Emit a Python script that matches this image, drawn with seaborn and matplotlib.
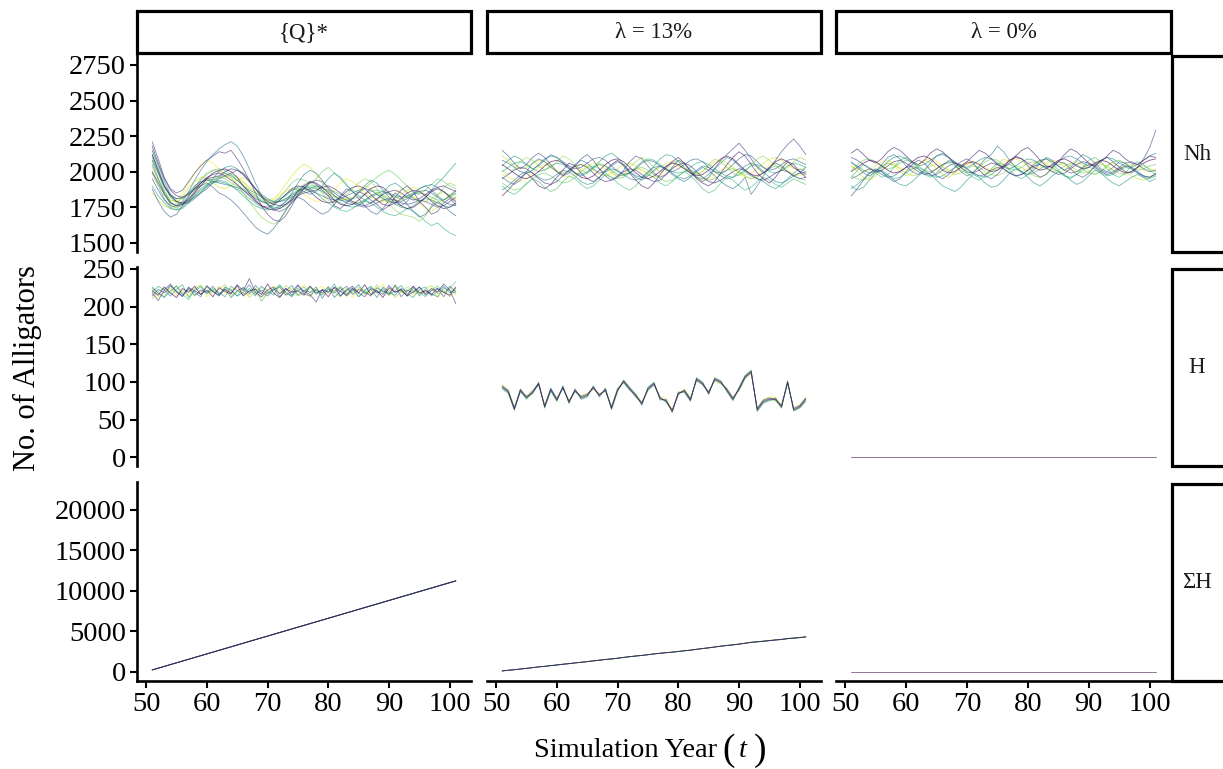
import numpy as np
import pandas as pd
import matplotlib
matplotlib.use("Agg")
import matplotlib.pyplot as plt
from matplotlib.patches import Rectangle
import seaborn as sns

# ---------------------------------------------------------------- data
years = list(range(51, 102))
scenarios = ["{Q}*", "λ = 13%", "λ = 0%"]
metrics = ["Nh", "H", "ΣH"]

# Population size (Nh), one list per simulation run
nh_q = [
    [2120,2010,1900,1830,1790,1780,1800,1850,1900,1950,1990,2010,2020,2000,1960,1900,1850,1800,1760,1740,1730,1740,1770,1810,1860,1900,1930,1920,1890,1850,1800,1770,1760,1770,1800,1840,1880,1900,1890,1850,1800,1760,1740,1750,1780,1820,1860,1880,1860,1820,1790],
    [2000,1920,1840,1780,1760,1770,1810,1860,1920,1960,1980,1990,1970,1940,1910,1870,1830,1790,1760,1750,1770,1800,1840,1880,1900,1890,1860,1820,1790,1780,1790,1820,1860,1890,1900,1880,1840,1800,1770,1760,1780,1810,1850,1870,1860,1830,1790,1760,1740,1750,1780],
    [2180,2060,1950,1870,1830,1820,1840,1880,1920,1950,1960,1970,2000,2020,2010,1980,1930,1880,1830,1790,1770,1760,1770,1800,1830,1850,1860,1870,1890,1900,1880,1850,1820,1790,1770,1760,1780,1810,1840,1860,1870,1850,1820,1800,1810,1840,1870,1890,1900,1880,1860],
    [2210,2090,1960,1880,1850,1870,1930,1990,2040,2080,2110,2140,2130,2150,2090,2020,1940,1850,1760,1700,1660,1650,1690,1760,1840,1880,1930,1910,1870,1830,1760,1740,1780,1810,1860,1840,1800,1770,1730,1760,1820,1870,1900,1860,1790,1750,1700,1720,1780,1810,1770],
    [1950,1870,1800,1760,1750,1770,1790,1820,1850,1880,1920,1950,1970,1990,2010,1990,1940,1880,1820,1770,1730,1720,1740,1780,1830,1880,1920,1940,1930,1890,1850,1820,1800,1780,1760,1750,1760,1780,1800,1810,1800,1780,1770,1780,1800,1790,1770,1750,1760,1790,1820],
    [1880,1790,1720,1680,1700,1760,1830,1880,1900,1920,1890,1850,1830,1800,1760,1710,1660,1610,1580,1560,1600,1660,1730,1790,1820,1800,1760,1730,1700,1720,1770,1830,1880,1860,1810,1760,1720,1700,1740,1800,1850,1820,1770,1720,1680,1700,1750,1790,1760,1720,1690],
    [2080,1990,1900,1840,1810,1810,1850,1900,1930,1940,1930,1920,1910,1900,1890,1870,1840,1810,1790,1780,1780,1790,1810,1840,1870,1880,1870,1850,1830,1810,1800,1810,1830,1850,1870,1880,1870,1840,1810,1790,1780,1790,1810,1840,1860,1870,1850,1820,1790,1770,1760],
    [2050,1950,1850,1780,1760,1790,1860,1940,2010,2070,2120,2160,2190,2210,2180,2110,2020,1920,1830,1770,1740,1750,1790,1850,1920,1980,2010,1990,1940,1880,1830,1800,1790,1810,1850,1900,1940,1920,1870,1820,1780,1760,1790,1840,1880,1900,1870,1830,1800,1830,1870],
    [2150,2050,1930,1840,1790,1770,1780,1810,1850,1900,1950,2000,2030,2040,2020,1980,1930,1880,1840,1810,1790,1790,1800,1820,1840,1860,1880,1900,1890,1860,1830,1800,1780,1770,1780,1800,1830,1850,1860,1850,1830,1820,1830,1850,1880,1900,1910,1890,1860,1830,1850],
    [2120,2000,1890,1830,1810,1820,1850,1880,1920,1950,1940,1960,1990,1970,1940,1900,1870,1850,1820,1800,1790,1810,1830,1870,1880,1860,1840,1860,1900,1950,1990,1960,1910,1860,1830,1800,1780,1800,1850,1900,1920,1890,1850,1810,1790,1820,1870,1920,1960,2010,2060],
    [1900,1830,1780,1740,1730,1750,1790,1840,1880,1910,1930,1930,1920,1900,1870,1830,1790,1760,1740,1730,1740,1760,1790,1830,1860,1880,1890,1880,1860,1830,1800,1780,1760,1750,1760,1790,1820,1840,1830,1800,1770,1750,1740,1760,1790,1810,1800,1780,1760,1750,1770],
    [1990,1900,1810,1750,1730,1740,1780,1830,1870,1900,1920,1940,1930,1900,1880,1850,1810,1780,1750,1740,1760,1800,1840,1870,1890,1900,1880,1850,1810,1780,1750,1730,1720,1740,1770,1790,1780,1750,1720,1700,1690,1710,1740,1720,1690,1650,1620,1640,1600,1570,1550],
    [2100,1990,1870,1790,1760,1780,1830,1890,1940,1980,2010,2020,2010,1980,1940,1900,1860,1830,1800,1770,1750,1740,1760,1800,1850,1890,1900,1900,1880,1870,1860,1840,1820,1810,1820,1840,1860,1870,1860,1840,1820,1810,1820,1840,1850,1840,1820,1800,1800,1820,1840],
    [2150,2030,1900,1820,1780,1770,1790,1830,1860,1890,1930,1960,1950,1920,1900,1880,1850,1820,1790,1770,1780,1820,1870,1920,1950,1940,1920,1950,2000,2030,1990,1950,1900,1870,1850,1880,1920,1960,1990,2010,1980,1940,1900,1860,1840,1870,1910,1950,1930,1900,1880],
    [2080,1950,1840,1770,1740,1760,1820,1890,1950,1990,2010,2000,1990,1960,1910,1850,1790,1730,1680,1650,1630,1660,1720,1800,1870,1910,1920,1890,1850,1800,1780,1800,1840,1880,1920,1950,1930,1880,1820,1770,1730,1700,1690,1680,1650,1690,1760,1830,1890,1920,1900],
    [2030,1940,1860,1800,1790,1810,1840,1870,1900,1930,1950,1970,1960,1980,1960,1930,1890,1860,1820,1790,1780,1790,1810,1830,1860,1880,1870,1890,1870,1840,1820,1800,1810,1790,1780,1800,1830,1850,1840,1810,1790,1800,1830,1820,1800,1790,1810,1840,1860,1830,1800],
    [1850,1800,1760,1740,1770,1830,1890,1930,1960,1950,1920,1890,1880,1900,1940,1960,1930,1880,1830,1800,1810,1850,1910,1970,2020,2050,2030,1980,1920,1870,1830,1810,1800,1820,1860,1900,1880,1840,1800,1780,1800,1840,1870,1890,1870,1830,1800,1780,1800,1840,1860],
    [2000,1920,1840,1790,1800,1850,1920,1990,2050,2080,2060,2020,1980,1950,1940,1920,1880,1830,1790,1780,1800,1830,1860,1880,1870,1840,1810,1790,1800,1830,1870,1920,1950,1930,1890,1850,1820,1800,1790,1810,1850,1880,1860,1820,1780,1740,1720,1750,1800,1830,1810],
]
nh_13 = [
    [2050,2020,1990,1960,1950,1970,2000,2040,2070,2080,2060,2030,1990,1960,1950,1970,2010,2050,2080,2090,2070,2030,1990,1960,1950,1970,2000,2040,2060,2050,2020,1990,1970,1980,2010,2050,2090,2110,2090,2050,2010,1980,1970,1990,2030,2070,2090,2070,2030,2000,1990],
    [1830,1870,1920,1960,1990,1950,1900,1880,1910,1960,2010,2060,2040,1990,1950,1930,1960,2010,2050,2080,2040,1990,1940,1900,1880,1920,1980,2030,2070,2100,2060,2000,1950,1920,1900,1930,1990,2050,2100,2140,2110,2050,1990,1950,1920,1960,2020,2070,2050,2000,1960],
    [1950,1980,2010,2030,2020,1990,1950,1920,1910,1930,1970,2010,2040,2050,2030,1990,1950,1930,1940,1970,2000,2020,2010,1980,1950,1930,1940,1980,2020,2050,2060,2040,2000,1960,1930,1920,1940,1970,2000,2020,2010,1980,1950,1940,1960,1990,2010,2000,1970,1950,1960],
    [2150,2110,2060,2020,2050,2100,2130,2100,2050,2000,1970,1990,2040,2090,2120,2080,2020,1970,1940,1960,2010,2070,2110,2090,2040,1990,1960,1980,2030,2080,2060,2010,1960,1930,1960,2020,2080,2120,2160,2200,2150,2090,2030,1990,2020,2080,2140,2190,2230,2180,2120],
    [2080,2060,2030,2000,1990,2010,2050,2090,2110,2100,2070,2040,2020,2030,2060,2090,2100,2080,2040,2000,1980,1990,2020,2060,2080,2070,2040,2010,2000,2020,2050,2080,2090,2070,2030,2000,1990,2010,2050,2090,2120,2110,2070,2030,2010,2020,2050,2080,2090,2070,2050],
    [1960,1930,1910,1940,2000,2060,2090,2070,2030,2000,1980,2010,2050,2080,2060,2020,1990,2000,2040,2070,2050,2000,1960,1940,1970,2010,2040,2020,1980,1950,1930,1960,2000,2030,2010,1970,1930,1900,1880,1910,1960,1840,1900,1970,2030,2060,2040,2000,1970,1990,2030],
    [1870,1900,1940,1980,2000,1990,1960,1940,1950,1980,2010,2000,1970,1930,1910,1920,1960,2000,2020,2010,1980,1950,1940,1960,2000,2030,2040,2020,1990,1960,1950,1970,2010,2040,2030,2000,1970,1950,1960,2000,2040,2060,2040,2000,1960,1930,1920,1940,1970,1990,1980],
    [2040,2080,2110,2090,2050,2020,2040,2080,2120,2100,2060,2020,1990,1970,1990,2030,2070,2110,2130,2100,2050,2000,1970,1960,1990,2040,2090,2120,2110,2070,2030,1990,1960,1950,1980,2020,2060,2100,2080,2040,2000,1970,1950,1930,1900,1880,1910,1950,1990,2020,2000],
    [2000,2030,2060,2070,2050,2020,2000,2010,2040,2060,2050,2020,1990,1980,2000,2030,2050,2040,2010,1980,1970,1990,2030,2070,2090,2080,2050,2020,2000,1990,2000,2030,2060,2070,2050,2020,1990,1970,1960,1980,2010,2040,2050,2030,2000,1990,2010,2040,2060,2050,2030],
    [1900,1860,1840,1870,1920,1950,1930,1890,1860,1880,1930,1970,1950,1910,1880,1900,1940,1980,1960,1920,1890,1870,1900,1950,1980,1960,1920,1900,1930,1970,2000,1970,1930,1880,1850,1870,1920,1960,1940,1900,1870,1890,1930,1960,1940,1910,1890,1920,1950,1930,1910],
    [1920,1890,1870,1880,1910,1950,1980,1990,1970,1940,1920,1930,1960,2000,2030,2040,2020,1990,1960,1950,1960,1990,2020,2030,2010,1980,1950,1930,1940,1970,2000,2010,1990,1960,1940,1950,1980,2010,2020,2000,1970,1950,1960,1990,2020,2040,2030,2000,1970,1950,1940],
    [2010,1980,2020,2070,2100,2080,2040,2010,2030,2070,2110,2090,2050,2010,1990,2020,2060,2040,2000,1960,1980,2030,2070,2100,2070,2030,2000,2020,2060,2080,2050,2010,1980,2000,2050,2090,2070,2030,1990,1970,2000,2050,2090,2110,2080,2040,2010,2030,2070,2100,2080],
    [2110,2080,2040,2020,2030,2060,2080,2070,2040,2010,1990,2000,2030,2050,2040,2010,1980,1970,1990,2020,2050,2060,2040,2010,1990,2000,2030,2060,2070,2050,2020,1990,1980,2000,2040,2070,2080,2060,2030,2000,1980,1990,2020,2060,2090,2100,2080,2050,2020,2010,2030],
    [1980,1960,1940,1930,1950,1990,2030,2050,2030,2000,1970,1960,1980,2010,2040,2060,2050,2020,1990,1970,1980,2000,2020,2010,1980,1960,1970,2000,2030,2040,2020,1990,1960,1940,1950,1980,2010,2030,2020,1990,1960,1950,1970,2010,2050,2060,2040,2010,1980,1970,1990],
]
nh_0 = [
    [2000,2030,2060,2080,2070,2040,2010,1990,2000,2030,2070,2100,2110,2090,2050,2010,1990,2000,2030,2060,2070,2050,2020,2000,2010,2040,2080,2100,2090,2060,2030,2010,2020,2050,2080,2090,2070,2040,2020,2030,2060,2080,2070,2040,2010,1990,2000,2030,2060,2080,2090],
    [2130,2160,2120,2080,2060,2090,2140,2170,2150,2110,2070,2050,2080,2130,2160,2140,2100,2060,2040,2070,2110,2150,2130,2090,2050,2030,2060,2110,2150,2170,2130,2080,2040,2030,2070,2120,2160,2140,2100,2060,2040,2070,2110,2150,2130,2090,2060,2050,2080,2110,2100],
    [2100,2080,2050,2020,2000,2010,2040,2070,2080,2060,2030,2000,1980,1990,2020,2050,2070,2060,2030,2000,1990,2010,2040,2060,2050,2020,1990,1970,1980,2010,2040,2050,2030,2000,1980,1990,2020,2050,2070,2060,2030,2000,1980,1990,2020,2040,2030,2000,1970,1960,1980],
    [1830,1880,1940,1990,2020,2000,1960,1930,1950,2000,2050,2080,2060,2010,1970,1950,1980,2030,2070,2090,2060,2010,1970,1950,1980,2030,2080,2110,2090,2040,1990,1960,1980,2030,2070,2060,2020,1980,1960,1990,2040,2080,2100,2070,2030,2000,1990,2030,2090,2170,2290],
    [1950,1970,2000,2020,2010,1980,1960,1970,2000,2030,2040,2020,1990,1970,1980,2010,2040,2060,2050,2020,1990,1970,1980,2010,2030,2020,1990,1970,1980,2010,2050,2080,2090,2070,2040,2010,1990,2000,2030,2050,2040,2010,1990,2000,2030,2060,2070,2050,2020,2000,2010],
    [2070,2030,1990,1970,2000,2050,2100,2120,2090,2040,2000,1980,2010,2060,2110,2130,2100,2050,2000,1970,1990,2040,2090,2120,2180,2140,2080,2030,1990,1980,2010,2060,2100,2080,2040,2010,2030,2080,2120,2100,2060,2020,2000,2030,2070,2060,2020,1990,1970,1960,1990],
    [2060,2040,2010,1990,2000,2030,2070,2100,2110,2090,2060,2040,2050,2080,2110,2120,2100,2070,2040,2030,2050,2080,2100,2090,2060,2030,2020,2040,2070,2090,2080,2050,2030,2040,2070,2100,2110,2090,2060,2040,2050,2080,2100,2090,2060,2040,2030,2050,2080,2110,2130],
    [1900,1870,1890,1940,1990,2010,1980,1940,1910,1900,1930,1970,2000,1980,1940,1900,1880,1860,1890,1940,1980,1960,1920,1890,1900,1940,1990,2020,2000,1960,1920,1900,1930,1970,2000,1980,1940,1910,1930,1970,2010,1990,1950,1920,1900,1930,1960,1980,1960,1930,1950],
    [1880,1910,1950,1990,2010,2000,1970,1950,1960,1990,2020,2030,2010,1980,1960,1970,2000,2030,2040,2020,1990,1970,1960,1980,2010,2040,2050,2030,2000,1980,1990,2020,2040,2030,2000,1970,1960,1980,2010,2030,2020,1990,1970,1980,2010,2030,2020,1990,1960,1950,1970],
    [1960,2010,2050,2030,1990,1960,1980,2030,2080,2100,2070,2020,1980,1960,1990,2040,2080,2070,2030,1990,1960,1940,1970,2020,2060,2050,2010,1970,1950,1980,2030,2070,2090,2060,2010,1970,1950,1980,2030,2080,2100,2070,2020,1980,1960,1990,2040,2070,2050,2010,1980],
    [2010,2050,2080,2090,2070,2040,2020,2030,2060,2080,2070,2040,2010,2000,2020,2050,2060,2040,2010,1990,2000,2030,2070,2090,2080,2050,2020,2010,2030,2060,2070,2050,2020,2000,2010,2040,2060,2050,2020,1990,1980,2000,2040,2070,2080,2060,2030,2010,2020,2040,2050],
    [1970,1950,1940,1960,2000,2040,2060,2050,2020,1990,1970,1980,2010,2040,2050,2030,2000,1980,1990,2020,2040,2030,2000,1980,1970,1990,2020,2040,2030,2000,1970,1960,1980,2020,2050,2060,2040,2010,1990,2000,2030,2050,2040,2010,1990,1980,2000,2030,2040,2020,2000],
    [2040,2000,1960,1940,1970,2020,2060,2040,2000,1970,1990,2040,2080,2060,2020,1980,1960,1990,2040,2070,2050,2010,1980,2000,2050,2090,2070,2030,2000,2020,2060,2080,2060,2020,1990,2010,2050,2070,2050,2010,1980,2000,2040,2060,2040,2000,1970,1950,1940,1960,1990],
    [2040,2020,2000,2010,2040,2070,2080,2060,2030,2010,2020,2050,2080,2090,2070,2040,2010,2000,2020,2050,2070,2060,2030,2010,2020,2050,2080,2090,2070,2040,2020,2030,2060,2080,2070,2040,2010,2000,2020,2050,2070,2060,2030,2010,2020,2040,2050,2030,2010,2000,2020],
]

# Annual harvest (H), one list per simulation run
h_q = [
    [221,215,226,218,212,224,219,227,216,222,213,225,220,217,228,214,221,223,216,230,218,212,224,219,221,215,227,218,222,213,226,220,215,224,218,229,216,221,212,225,219,222,214,227,218,221,216,224,219,215,226],
    [218,208,222,230,219,214,225,221,216,227,220,214,223,218,229,221,237,219,213,222,226,217,224,215,228,220,216,206,223,219,225,214,222,227,218,213,224,221,216,228,219,223,214,220,226,217,224,219,230,222,204],
    [214,223,218,228,220,213,226,215,222,219,227,216,223,212,221,225,217,228,219,214,222,226,215,220,229,217,214,223,218,226,212,221,227,216,223,219,214,225,220,217,228,213,222,218,226,215,221,224,213,227,220],
    [226,218,212,221,227,216,223,219,213,228,220,215,226,222,214,219,229,216,222,217,224,213,221,228,215,222,219,226,211,223,218,225,214,221,229,217,223,212,226,219,215,224,220,227,214,222,217,213,225,221,218],
    [219,227,222,214,223,229,212,221,226,217,224,219,213,227,221,216,224,214,227,221,215,229,218,213,224,220,227,216,222,219,230,214,221,225,213,222,227,218,224,216,221,228,217,212,223,226,214,220,227,218,224],
    [224,218,213,227,221,216,209,223,228,218,222,216,225,221,214,226,219,224,207,218,223,228,219,214,221,226,218,222,215,224,220,227,217,223,213,220,226,218,222,215,229,220,216,224,219,213,222,227,218,224,233],
    [210,220,225,217,228,219,222,214,220,226,218,223,229,215,219,224,212,220,226,218,223,217,228,222,214,218,225,221,216,227,219,213,224,218,226,221,215,229,218,223,212,219,226,221,216,224,228,217,222,213,222],
    [223,212,219,224,216,221,214,225,229,213,221,227,217,222,225,218,215,224,212,220,227,221,216,225,219,229,212,223,227,217,221,226,219,212,224,216,220,223,230,214,227,218,222,215,221,217,225,212,219,226,216],
]
h_13 = [
    [93,87,64,89,79,86,98,67,90,76,93,73,89,79,82,93,82,90,65,89,101,91,82,71,91,98,78,75,61,85,88,76,104,98,85,104,100,89,77,91,107,114,63,74,77,77,67,100,63,67,77],
    [95,88,66,90,81,85,97,69,91,78,92,75,88,81,84,92,83,89,67,90,100,90,80,73,90,97,80,74,63,84,89,78,102,97,87,103,99,91,79,90,106,112,65,76,79,76,69,99,65,69,78],
    [91,85,63,87,80,88,99,66,88,75,95,72,91,77,80,95,80,92,64,88,102,93,84,69,93,99,76,77,60,86,86,75,105,100,84,105,101,87,76,93,108,115,61,72,75,79,66,101,62,66,75],
    [94,89,65,88,77,87,96,68,92,77,91,74,87,80,83,91,84,88,66,91,99,89,83,72,89,96,79,73,62,83,90,77,103,96,86,102,98,90,78,89,105,113,64,75,78,78,68,98,64,68,79],
    [92,86,62,91,78,84,100,65,89,74,94,71,90,78,81,94,81,91,63,87,103,92,81,70,92,100,77,76,59,87,87,74,106,99,83,106,102,88,75,92,109,116,62,73,76,75,65,102,61,65,74],
    [96,90,67,86,82,89,97,70,87,79,93,76,88,82,85,90,85,87,68,92,100,90,84,74,88,97,81,78,64,82,91,79,101,97,88,101,97,92,80,88,104,111,66,77,80,80,70,97,66,70,80],
]
h_0 = [[0] * len(years)]

nh_runs = {"{Q}*": nh_q, "λ = 13%": nh_13, "λ = 0%": nh_0}
h_runs = {"{Q}*": h_q, "λ = 13%": h_13, "λ = 0%": h_0}

for name, group in [("Nh", nh_runs), ("H", h_runs)]:
    for scen, runs in group.items():
        for k, run in enumerate(runs):
            assert len(run) == len(years), f"{name} {scen} run {k}: {len(run)}"

# long-form table: cumulative harvest is the running total of each run's H
rows = []
for scen in scenarios:
    for k, run in enumerate(nh_runs[scen]):
        for yr, v in zip(years, run):
            rows.append((scen, "Nh", f"r{k + 1}", yr, v))
    for k, run in enumerate(h_runs[scen]):
        for yr, v, c in zip(years, run, np.cumsum(run)):
            rows.append((scen, "H", f"r{k + 1}", yr, v))
            rows.append((scen, "ΣH", f"r{k + 1}", yr, c))
df = pd.DataFrame(rows, columns=["scenario", "metric", "run", "year", "value"])

# ---------------------------------------------------------------- style
sns.set_theme(style="white")
plt.rcParams["font.family"] = ["Liberation Serif", "DejaVu Serif"]
viridis = matplotlib.colormaps["viridis"]

W, HPX = 1223, 769
fig = plt.figure(figsize=(W / 100, HPX / 100), dpi=100)
fig.patch.set_facecolor("white")

col_px = [(137, 471), (487, 821), (836, 1171)]
row_px = [(54, 252), (267, 466), (482, 681)]
ylims = {"Nh": (1435, 2827), "H": (-11.5, 252.5), "ΣH": (-1150, 23460)}
yticks = {
    "Nh": [1500, 1750, 2000, 2250, 2500, 2750],
    "H": [0, 50, 100, 150, 200, 250],
    "ΣH": [0, 5000, 10000, 15000, 20000],
}
xticks = [50, 60, 70, 80, 90, 100]
AX_LW = 1.9
TICK_FS = 20.5


def fig_rect(x0, y0, x1, y1):
    return [x0 / W, 1 - y1 / HPX, (x1 - x0) / W, (y1 - y0) / HPX]


def run_palette(runs):
    n = len(runs)
    if n == 1:
        return {runs[0]: viridis(0.0)}
    return {r: viridis(k / (n - 1)) for k, r in enumerate(runs)}


for i, m in enumerate(metrics):
    for j, s in enumerate(scenarios):
        x0, x1 = col_px[j]
        y0, y1 = row_px[i]
        ax = fig.add_axes(fig_rect(x0, y0, x1, y1))
        ax.set_facecolor("white")
        sub = df[(df["scenario"] == s) & (df["metric"] == m)]
        runs = sorted(sub["run"].unique(), key=lambda r: int(r[1:]))
        sns.lineplot(data=sub, x="year", y="value", hue="run",
                     hue_order=runs[::-1], palette=run_palette(runs),
                     estimator=None, legend=False, linewidth=0.6, alpha=0.65,
                     ax=ax)
        ax.set_xlim(48.5, 103.5)
        ax.set_ylim(*ylims[m])
        ax.set_xlabel("")
        ax.set_ylabel("")
        ax.grid(False)
        for sp in ax.spines.values():
            sp.set_visible(False)
        if j == 0:
            ax.spines["left"].set_visible(True)
            ax.spines["left"].set_linewidth(AX_LW)
            ax.spines["left"].set_color("black")
            ax.set_yticks(yticks[m])
            ax.set_yticklabels([str(t) for t in yticks[m]])
            ax.tick_params(axis="y", left=True, length=5, width=1.5,
                           color="black", direction="out", pad=3,
                           labelsize=TICK_FS, labelcolor="black")
        else:
            ax.set_yticks([])
        if i == len(metrics) - 1:
            ax.spines["bottom"].set_visible(True)
            ax.spines["bottom"].set_linewidth(AX_LW)
            ax.spines["bottom"].set_color("black")
            ax.set_xticks(xticks)
            ax.set_xticklabels([str(t) for t in xticks])
            ax.tick_params(axis="x", bottom=True, length=5, width=1.5,
                           color="black", direction="out", pad=3,
                           labelsize=TICK_FS, labelcolor="black")
        else:
            ax.set_xticks([])

# facet strips
STRIP_LW = 2.3
for j, s in enumerate(scenarios):
    x0, x1 = col_px[j]
    fig.patches.append(Rectangle((x0 / W, 1 - 53 / HPX), (x1 - x0) / W, 42 / HPX,
                                 transform=fig.transFigure, facecolor="white",
                                 edgecolor="black", linewidth=STRIP_LW))
    fig.text((x0 + x1) / 2 / W, 1 - 33 / HPX, s, ha="center", va="center",
             fontsize=16.5, color="#1a1a1a")

for i, m in enumerate(metrics):
    y0, y1 = row_px[i]
    y0 = y0 + 2
    fig.patches.append(Rectangle((1172 / W, 1 - y1 / HPX), 60 / W, (y1 - y0) / HPX,
                                 transform=fig.transFigure, facecolor="white",
                                 edgecolor="black", linewidth=STRIP_LW))
    fig.text(1197 / W, 1 - (y0 + y1) / 2 / HPX, m, ha="center", va="center",
             fontsize=16.5, color="#1a1a1a")

# axis titles
fig.text(27 / W, 1 - 368 / HPX, "No. of Alligators", rotation=90,
         ha="center", va="center", fontsize=22, color="black")

renderer = fig.canvas.get_renderer()
pieces = [("Simulation Year", 20.5, "normal", 0, 0),
          ("(", 27, "normal", 5, 3),
          ("t", 20.5, "italic", 4, 0),
          (")", 27, "normal", 7, 3)]
base_y = 757
objs, widths = [], []
for txt, fs, style, gap, dy in pieces:
    t = fig.text(0, 1 - (base_y + dy) / HPX, txt, fontsize=fs, fontstyle=style,
                 ha="left", va="baseline", color="black")
    widths.append(t.get_window_extent(renderer=renderer).width)
    objs.append(t)
total = sum(widths) + sum(p[3] for p in pieces)
x = 650 - total / 2
for t, wd, p in zip(objs, widths, pieces):
    x += p[3]
    t.set_x(x / W)
    x += wd

fig.savefig("out.png", dpi=100, facecolor="white")
